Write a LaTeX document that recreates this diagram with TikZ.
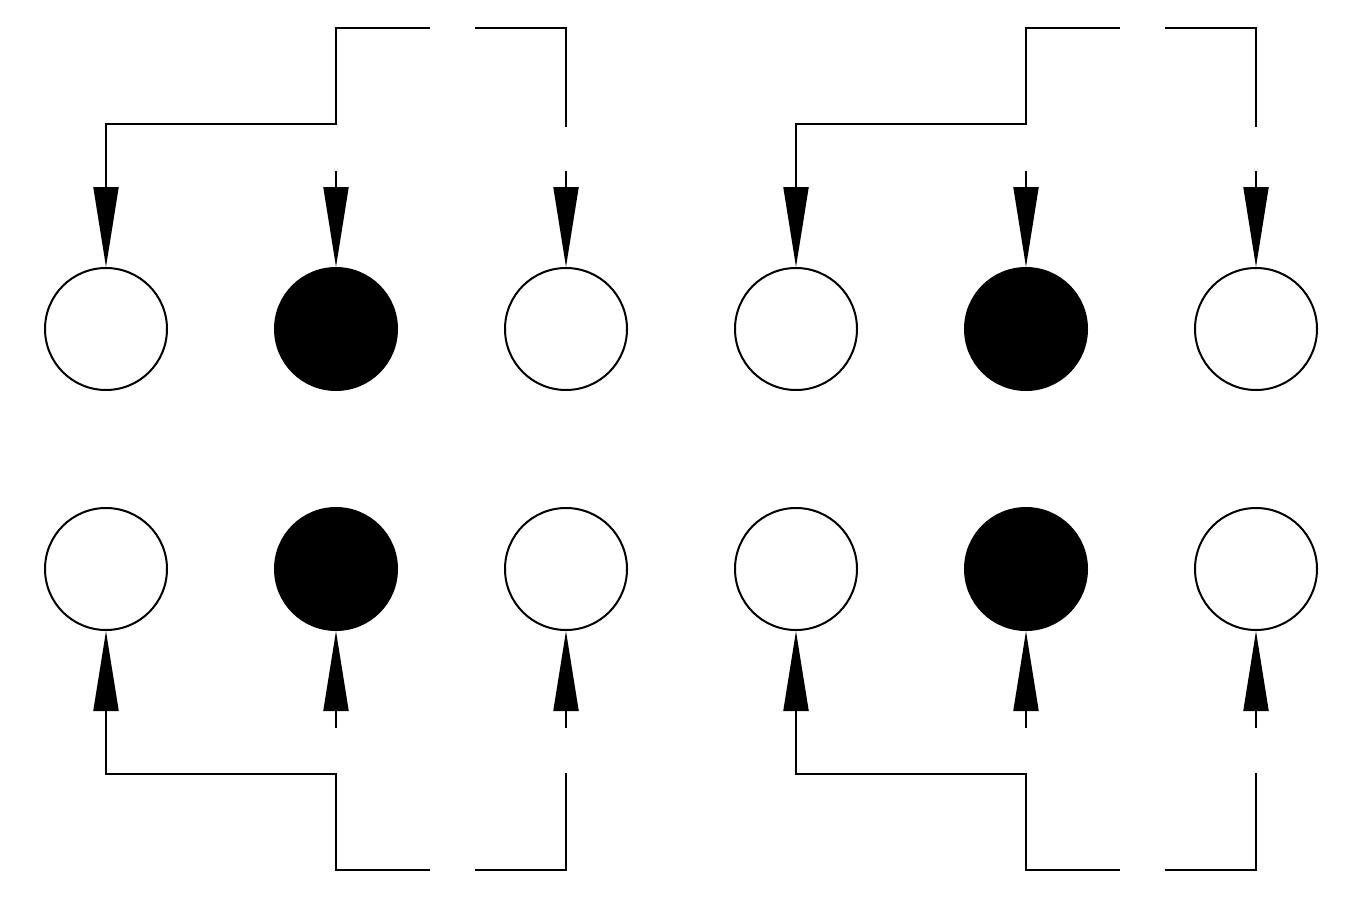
\documentclass[tikz,border=0pt]{standalone}
\usetikzlibrary{arrows.meta}
\tikzset{
  ring/.style={circle,draw=black,line width=2pt,minimum size=122pt,inner sep=0pt,fill=white},
  solidring/.style={ring,fill=black},
  wire/.style={line width=2pt,line join=miter},
  arr/.style={wire,-{Triangle[length=80pt 0,width=25pt 0]}}
}
\begin{document}
\begin{tikzpicture}[x=1pt,y=-1pt]
\useasboundingbox (0,0) rectangle (1347,905);
\foreach \g/\o in {1/0,2/690}{
  % top row
  \node[ring]      (t\g a) at (106+\o,329) {};
  \node[solidring] (t\g b) at (336+\o,329) {};
  \node[ring]      (t\g c) at (566+\o,329) {};
  % bottom row
  \node[ring]      (b\g a) at (106+\o,569) {};
  \node[solidring] (b\g b) at (336+\o,569) {};
  \node[ring]      (b\g c) at (566+\o,569) {};
  % free ends, top
  \coordinate (tl\g) at (430+\o,28);
  \coordinate (tr\g) at (475+\o,28);
  \coordinate (te\g) at (566+\o,127);
  \coordinate (ts\g b) at (336+\o,171);
  \coordinate (ts\g c) at (566+\o,171);
  % free ends, bottom
  \coordinate (bl\g) at (430+\o,870);
  \coordinate (br\g) at (475+\o,870);
  \coordinate (be\g) at (566+\o,773);
  \coordinate (bs\g b) at (336+\o,728);
  \coordinate (bs\g c) at (566+\o,728);
  % top connectors
  \draw[arr] (tl\g) -- (336+\o,28) -- (336+\o,124) -| (t\g a.north);
  \draw[wire] (tr\g) -| (te\g);
  \draw[arr] (ts\g b) -- (t\g b.north);
  \draw[arr] (ts\g c) -- (t\g c.north);
  % bottom connectors
  \draw[arr] (bl\g) -- (336+\o,870) -- (336+\o,774) -| (b\g a.south);
  \draw[wire] (br\g) -| (be\g);
  \draw[arr] (bs\g b) -- (b\g b.south);
  \draw[arr] (bs\g c) -- (b\g c.south);
}
\end{tikzpicture}
\end{document}
